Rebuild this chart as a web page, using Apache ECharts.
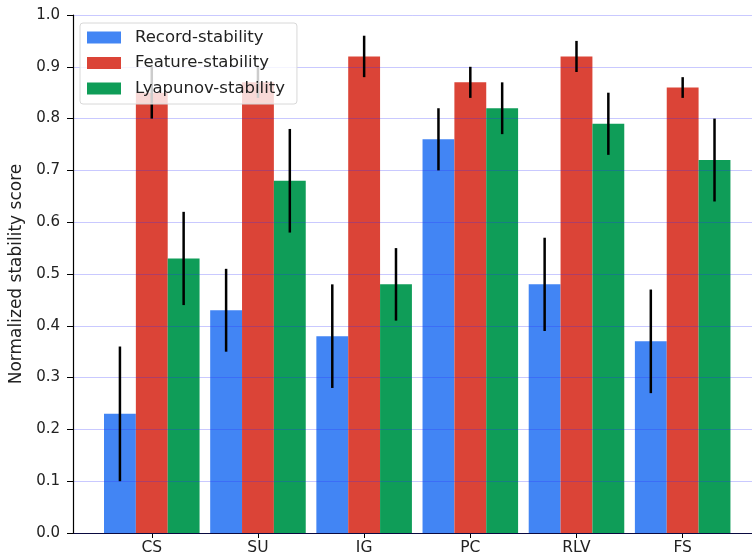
<!DOCTYPE html>
<html>
<head>
<meta charset="utf-8">
<script src="https://cdn.jsdelivr.net/npm/echarts@6/dist/echarts.min.js"></script>
<style>
  html, body { margin: 0; padding: 0; background: #fff; }
  #chart { width: 752px; height: 559px; }
</style>
</head>
<body>
<div id="chart"></div>
<script>
// categories and values
var categories = ["CS", "SU", "IG", "PC", "RLV", "FS"];
var seriesNames = ["Record-stability", "Feature-stability", "Lyapunov-stability"];
var recordVals = [0.23, 0.43, 0.38, 0.76, 0.48, 0.37];
var recordErr = [0.13, 0.08, 0.10, 0.06, 0.09, 0.10];
var featureVals = [0.85, 0.87, 0.92, 0.87, 0.92, 0.86];
var featureErr = [0.05, 0.03, 0.04, 0.03, 0.03, 0.02];
var lyapunovVals = [0.53, 0.68, 0.48, 0.82, 0.79, 0.72];
var lyapunovErr = [0.09, 0.10, 0.07, 0.05, 0.06, 0.08];

var colors = ["#4285F4", "#DB4437", "#0F9D58"];
var barW = 0.3;
var offsets = [-0.3, 0, 0.3];
var font = "DejaVu Sans";

var chart = echarts.init(document.getElementById("chart"));

function barSeries(idx, vals) {
  return {
    name: seriesNames[idx],
    type: "custom",
    z: 2,
    itemStyle: { color: colors[idx] },
    data: vals.map(function (v, i) { return [i, v]; }),
    renderItem: function (params, api) {
      var x = api.value(0) + offsets[idx];
      var p0 = api.coord([x - barW / 2, api.value(1)]);
      var p1 = api.coord([x + barW / 2, 0]);
      return {
        type: "rect",
        shape: { x: p0[0], y: p0[1], width: p1[0] - p0[0], height: p1[1] - p0[1] },
        style: { fill: colors[idx] }
      };
    }
  };
}

// black error bars, no caps
function errSeries(idx, vals, errs) {
  return {
    type: "custom",
    z: 4,
    silent: true,
    data: vals.map(function (v, i) { return [i, v, errs[i]]; }),
    renderItem: function (params, api) {
      var x = api.value(0) + offsets[idx];
      var top = api.coord([x, api.value(1) + api.value(2)]);
      var bot = api.coord([x, api.value(1) - api.value(2)]);
      return {
        type: "line",
        shape: { x1: top[0], y1: top[1], x2: bot[0], y2: bot[1] },
        style: { stroke: "#000", lineWidth: 2.5 }
      };
    }
  };
}

var tickPos = categories.map(function (c, i) { return i; });

var options = {
  backgroundColor: "#fff",
  animation: false,
  textStyle: { fontFamily: font },
  grid: { left: 71, right: 0, top: 15, bottom: 26 },
  legend: {
    left: 80,
    top: 23,
    orient: "vertical",
    data: seriesNames,
    icon: "rect",
    itemWidth: 34,
    itemHeight: 12,
    itemGap: 6.5,
    padding: [5, 12, 6, 7],
    z: 10,
    backgroundColor: "rgba(255,255,255,0.8)",
    borderColor: "#d8d8d8",
    borderWidth: 1,
    borderRadius: 3,
    textStyle: { fontFamily: font, fontSize: 16.5, lineHeight: 19, color: "#222", padding: [0, 0, 0, 9] }
  },
  xAxis: {
    type: "value",
    min: -0.742,
    max: 5.653,
    splitLine: { show: false },
    axisLine: { show: true, onZero: false, lineStyle: { color: "#000", width: 1.2 } },
    axisTick: { show: true, customValues: tickPos, length: 5, lineStyle: { color: "#000" } },
    axisLabel: {
      customValues: tickPos,
      formatter: function (v) { return categories[Math.round(v)]; },
      fontFamily: font,
      fontSize: 15.5,
      color: "#222",
      margin: 7
    }
  },
  yAxis: {
    type: "value",
    min: 0,
    max: 1,
    interval: 0.1,
    z: 3,
    name: "Normalized stability score",
    nameLocation: "middle",
    nameGap: 48,
    nameTextStyle: { fontFamily: font, fontSize: 17, color: "#222" },
    axisLine: { show: true, onZero: false, lineStyle: { color: "#000", width: 1.2 } },
    axisTick: { show: true, length: 6, lineStyle: { color: "#000" } },
    axisLabel: {
      formatter: function (v) { return v.toFixed(1); },
      fontFamily: font,
      fontSize: 15,
      color: "#222",
      margin: 13
    },
    splitLine: { show: true, lineStyle: { color: "rgba(40,40,255,0.25)", width: 1 } }
  },
  series: [
    barSeries(0, recordVals),
    barSeries(1, featureVals),
    barSeries(2, lyapunovVals),
    errSeries(0, recordVals, recordErr),
    errSeries(1, featureVals, featureErr),
    errSeries(2, lyapunovVals, lyapunovErr)
  ]
};

chart.setOption(options);
</script>
</body>
</html>
